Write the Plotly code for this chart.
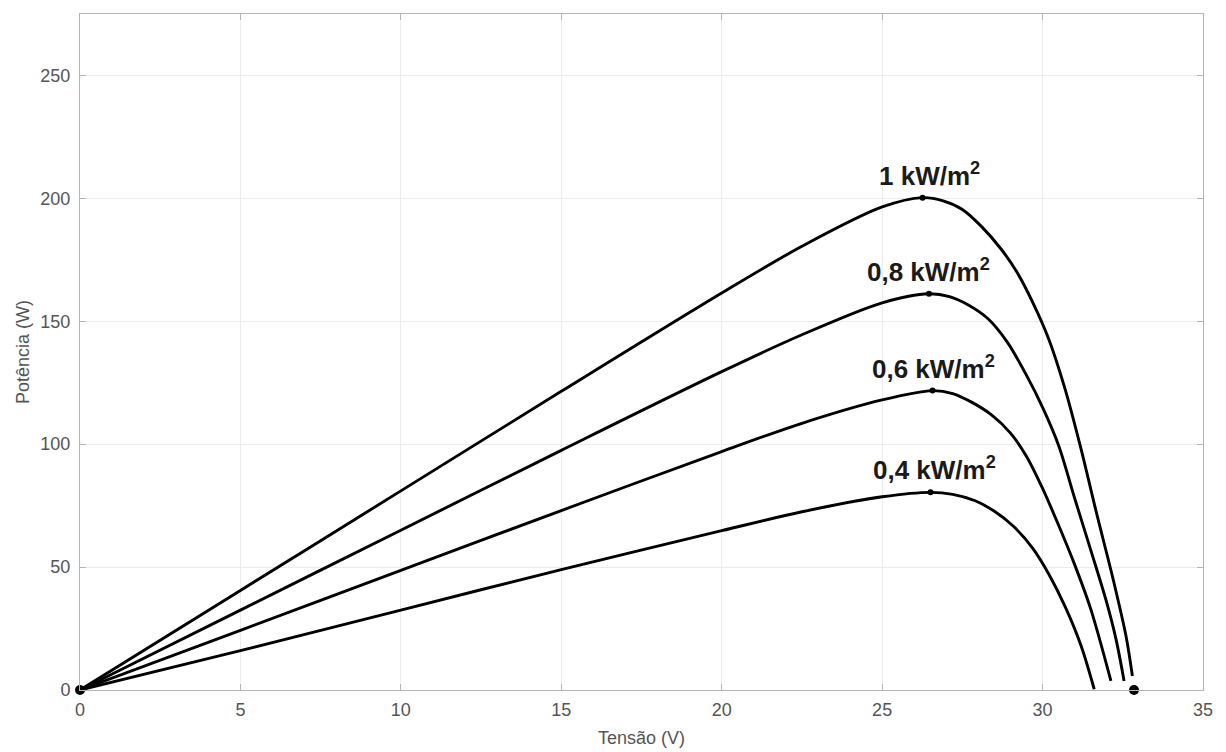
import plotly.graph_objects as go

# Curvas P-V do módulo fotovoltaico para quatro níveis de irradiância
v_1000 = [0, 5, 10, 15, 20, 22.5, 25, 26.26, 26.9, 27.5, 28.1, 28.7, 29.2, 29.7, 30.2,
          30.7, 31.2, 31.7, 32.2, 32.6, 32.8]
p_1000 = [0, 40.5, 81, 121.5, 161.5, 180.5, 196.5, 200.3, 199, 195.5, 188.5, 179.5, 170,
          157.5, 142.5, 122.5, 98, 71, 45, 22, 5.7]

v_800 = [0, 5, 10, 15, 20, 22.5, 25, 26.46, 27.1, 27.7, 28.3, 28.9, 29.5, 30.0, 30.5,
         31.0, 31.5, 32.0, 32.3, 32.54]
p_800 = [0, 32.5, 65, 97.5, 129.5, 144.5, 157.5, 161.2, 160, 156.5, 151, 141.5, 128, 115,
         99.5, 78, 57, 35.5, 20, 3.7]

v_600 = [0, 5, 10, 15, 20, 22.5, 25, 26.57, 27.2, 27.8, 28.4, 29.0, 29.5, 30.0, 30.5,
         31.0, 31.5, 32.13]
p_600 = [0, 24.3, 48.7, 73, 97, 108.5, 118, 121.8, 120.6, 117, 112, 104.5, 95, 82, 67,
         51, 33, 3.7]

v_400 = [0, 5, 10, 15, 20, 22.5, 25, 26.51, 27.2, 27.9, 28.5, 29.1, 29.7, 30.2, 30.7,
         31.2, 31.61]
p_400 = [0, 16, 32.5, 49, 64.8, 72.5, 78.6, 80.4, 79.6, 77, 72.7, 66.5, 57.5, 47, 34,
         18, 0.3]

# Pontos de máxima potência e rótulos
mpp_v = [26.26, 26.46, 26.57, 26.51]
mpp_p = [200.3, 161.2, 121.8, 80.4]
mpp_labels = ["1 kW/m<sup>2</sup>", "0,8 kW/m<sup>2</sup>",
              "0,6 kW/m<sup>2</sup>", "0,4 kW/m<sup>2</sup>"]

# Pontos extremos (origem e tensão de circuito aberto)
end_v = [0, 32.85]
end_p = [0, 0]

x_ticks = [0, 5, 10, 15, 20, 25, 30, 35]
y_ticks = [0, 50, 100, 150, 200, 250]

FONT = "Liberation Sans, Arial, sans-serif"

fig = go.Figure()

for vv, pp in [(v_1000, p_1000), (v_800, p_800), (v_600, p_600), (v_400, p_400)]:
    fig.add_trace(go.Scatter(
        x=vv, y=pp, mode="lines",
        line=dict(color="black", width=2.9, shape="spline", smoothing=0.9),
        showlegend=False, hoverinfo="skip", cliponaxis=False,
    ))

fig.add_trace(go.Scatter(
    x=mpp_v, y=mpp_p, mode="markers",
    marker=dict(color="black", size=6),
    showlegend=False, cliponaxis=False,
))

fig.add_trace(go.Scatter(
    x=end_v, y=end_p, mode="markers",
    marker=dict(color="black", size=10),
    showlegend=False, cliponaxis=False,
))

# deslocamento horizontal de cada rótulo em relação ao seu ponto (px)
label_dx = [7, 0, 1, 4]
for vx, py, lab, dx in zip(mpp_v, mpp_p, mpp_labels, label_dx):
    fig.add_annotation(
        x=vx, y=py, text="<b>" + lab + "</b>", showarrow=False,
        xanchor="center", yanchor="bottom", xshift=dx, yshift=5,
        font=dict(family=FONT, size=26, color="#1a1a1a"),
    )

axis_common = dict(
    showgrid=True, gridcolor="#ececec", gridwidth=1,
    showline=True, linecolor="#b5b5b5", linewidth=1, mirror="ticks",
    ticks="inside", ticklen=6, tickcolor="#b5b5b5",
    zeroline=False, automargin=False,
    tickfont=dict(family=FONT, size=18, color="#555555"),
)

fig.update_xaxes(
    range=[0, 35], tickvals=x_ticks, ticklabelstandoff=3,
    title=dict(text="Tensão (V)", standoff=12,
               font=dict(family=FONT, size=18, color="#555555")),
    **axis_common,
)
fig.update_yaxes(
    range=[0, 275], tickvals=y_ticks, ticklabelstandoff=5,
    title=dict(text="Potência (W)", standoff=6,
               font=dict(family=FONT, size=18, color="#555555")),
    **axis_common,
)

fig.update_layout(
    width=1226, height=752,
    margin=dict(l=80, r=23, t=14, b=62),
    paper_bgcolor="white", plot_bgcolor="white",
)

fig.write_html("out.html")
